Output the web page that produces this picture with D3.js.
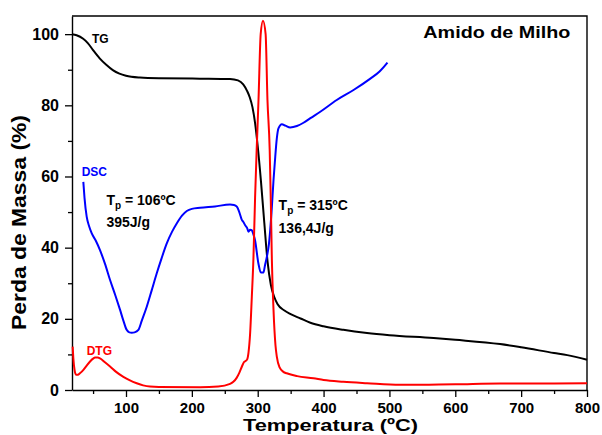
<!DOCTYPE html>
<html>
<head>
<meta charset="utf-8">
<script src="https://cdn.jsdelivr.net/npm/d3@7"></script>
<style>
  html, body { margin: 0; padding: 0; background: #fff; }
  svg { display: block; }
  text { font-family: "Liberation Sans", Arial, Helvetica, sans-serif; font-weight: bold; }
</style>
</head>
<body>
<svg id="chart" width="602" height="435"></svg>
<script>
// Thermal analysis of corn starch: TG, DSC and DTG curves vs temperature

// TG curve (mass %, vs temperature in ºC)
const tgTemp = [18, 25, 35, 42, 50, 60, 70, 80, 90, 100, 121, 150, 212, 258, 270, 278, 284, 288, 292, 296, 300, 305, 310, 315, 320, 325, 330, 340, 350, 365, 380, 400, 430, 466, 500, 567, 600, 668, 700, 750, 770, 800];
const tgVal  = [100, 99.7, 98.7, 97.5, 95.5, 93.2, 91.4, 89.9, 88.9, 88.3, 87.8, 87.6, 87.5, 87.4, 87.0, 85.9, 84.0, 82.2, 79.5, 75.0, 68.5, 58.5, 47.0, 36.0, 29.5, 26.2, 24.2, 22.4, 21.3, 20.1, 18.9, 17.9, 16.9, 16.0, 15.4, 14.6, 14.1, 12.9, 12.0, 10.4, 9.8, 8.5];

// DSC curve (arbitrary units on the same scale)
const dscTemp = [35.2, 37, 40.3, 44, 48, 54, 60.5, 68, 75.8, 84, 91, 96, 101, 105, 108.7, 113, 118.8, 124, 131.5, 139, 146.7, 154, 161.9, 170, 177, 185, 192.3, 200, 212.5, 235, 258, 264, 268.3, 272, 275.9, 278, 281, 284, 286, 288.5, 291, 293, 296, 301, 304.8, 308.7, 311, 314, 317, 319, 321, 324, 326, 329, 331.5, 336.7, 342, 349.3, 359.5, 369.5, 380, 395, 420, 445.5, 471, 485, 497];
const dscVal  = [58.5, 54, 48.7, 46, 44, 42, 39.3, 35.5, 30.9, 26.5, 22.5, 19.5, 16.9, 16.2, 16.1, 16.2, 16.9, 19.5, 23.4, 28, 32.8, 37, 41.2, 44.5, 46.8, 49, 50.3, 50.9, 51.2, 51.6, 52.1, 52, 51.5, 50, 47.8, 47.3, 46.3, 45.5, 44.5, 45, 44.9, 44, 42, 35.6, 33, 33, 35, 37.5, 41, 45, 50, 59, 64, 70.7, 73.5, 74.7, 74.3, 73.8, 74.2, 75.1, 76.4, 78.2, 81.5, 84.3, 87.5, 89.5, 92];

// DTG curve
const dtgTemp = [19, 20, 22, 24, 27, 30, 35, 40, 45.4, 50, 53, 57, 60.5, 68, 75.8, 85, 96, 106, 116.3, 126, 136.5, 150, 212.5, 240, 258, 263, 268, 272, 276, 279, 282, 284, 286, 288.5, 291, 293.5, 296, 298.4, 301.2, 304.5, 308, 312, 314.8, 318.2, 320, 321.5, 324, 327, 329, 333, 339, 344, 360, 384.7, 400, 430, 466, 516, 560, 600, 668, 700, 750, 800];
const dtgVal  = [12.2, 9, 5.5, 4.3, 4.3, 4.7, 5.6, 6.8, 8, 8.8, 9.1, 9.1, 8.9, 7.8, 6.6, 5.1, 3.7, 2.7, 1.9, 1.3, 0.95, 0.85, 0.8, 0.95, 1.7, 2.3, 3.4, 4.8, 6.6, 7.8, 8.2, 8.6, 10.5, 16, 26, 37, 54, 67.4, 81.5, 100, 103.8, 100, 81.5, 67.4, 52, 36.5, 22.5, 12.5, 9.4, 6.4, 5.1, 4.7, 3.9, 3.3, 2.8, 2.3, 1.9, 1.45, 1.5, 1.6, 1.85, 1.8, 1.85, 1.9];

// Axis ticks
const xTicks = [100, 200, 300, 400, 500, 600, 700, 800];
const xMinorTicks = [50, 150, 250, 350, 450, 550, 650, 750];
const yTicks = [0, 20, 40, 60, 80, 100];
const yMinorTicks = [10, 30, 50, 70, 90];

const svg = d3.select("#chart");
const plotLeft = 72, plotRight = 587, plotTop = 16, plotBottom = 390;

const x = d3.scaleLinear().domain([18, 800]).range([plotLeft, plotRight]);
const y = d3.scaleLinear().domain([0, 105.1]).range([plotBottom, plotTop]);

// frame (top and right edges)
svg.append("path")
  .attr("d", `M${plotLeft},${plotTop}H${plotRight}V${plotBottom}`)
  .attr("fill", "none").attr("stroke", "#000").attr("stroke-width", 1.4);

// minor ticks
svg.append("g").attr("transform", `translate(0,${plotBottom})`)
  .call(d3.axisBottom(x).tickValues(xMinorTicks).tickSizeInner(4).tickSizeOuter(0).tickFormat(""))
  .call(g => g.select(".domain").remove())
  .call(g => g.selectAll("line").attr("stroke-width", 1.3));
svg.append("g").attr("transform", `translate(${plotLeft},0)`)
  .call(d3.axisLeft(y).tickValues(yMinorTicks).tickSizeInner(4).tickSizeOuter(0).tickFormat(""))
  .call(g => g.select(".domain").remove())
  .call(g => g.selectAll("line").attr("stroke-width", 1.3));

// major axes
const xAxis = svg.append("g").attr("transform", `translate(0,${plotBottom})`)
  .call(d3.axisBottom(x).tickValues(xTicks).tickSizeInner(7).tickSizeOuter(0).tickPadding(5).tickFormat(d3.format("d")));
const yAxis = svg.append("g").attr("transform", `translate(${plotLeft},0)`)
  .call(d3.axisLeft(y).tickValues(yTicks).tickSizeInner(7).tickSizeOuter(0).tickPadding(6).tickFormat(d3.format("d")));
[xAxis, yAxis].forEach(ax => {
  ax.select(".domain").attr("stroke-width", 1.4);
  ax.selectAll("line").attr("stroke-width", 1.3);
  ax.selectAll("text").attr("fill", "#000");
  ax.attr("font-family", null).attr("font-size", null);
});
xAxis.selectAll("text").attr("font-size", 15);
yAxis.selectAll("text").attr("font-size", 16);

// curves
function drawCurve(temps, vals, color) {
  const pts = temps.map((t, i) => [t, vals[i]]);
  const line = d3.line().x(d => x(d[0])).y(d => y(d[1])).curve(d3.curveMonotoneX);
  svg.append("path").datum(pts)
    .attr("d", line)
    .attr("fill", "none")
    .attr("stroke", color)
    .attr("stroke-width", 2)
    .attr("stroke-linejoin", "round");
}
drawCurve(tgTemp, tgVal, "#000000");
drawCurve(dscTemp, dscVal, "#0000ff");
drawCurve(dtgTemp, dtgVal, "#ff0000");

// curve labels
svg.append("text").attr("x", x(48.4)).attr("y", y(97.4)).attr("font-size", 12).attr("fill", "#000").text("TG");
svg.append("text").attr("x", x(32.7)).attr("y", y(60.1)).attr("font-size", 12).attr("fill", "#0000ff").text("DSC");
svg.append("text").attr("x", x(40.3)).attr("y", y(9.8)).attr("font-size", 12).attr("fill", "#ff0000").text("DTG");

// peak annotations
function peakLabel(tx, ty, temp, energy, ty2) {
  const t = svg.append("text").attr("x", x(tx)).attr("y", y(ty)).attr("font-size", 14).attr("fill", "#000");
  t.append("tspan").text("T");
  t.append("tspan").attr("font-size", 10).attr("dy", 4).text("p");
  t.append("tspan").attr("dy", -4).text(" = " + temp);
  svg.append("text").attr("x", x(tx)).attr("y", y(ty2)).attr("font-size", 14).attr("fill", "#000").text(energy);
}
peakLabel(70.3, 52, "106ºC", "395J/g", 45.7);
peakLabel(331.7, 50.6, "315ºC", "136,4J/g", 44.2);

// sample name
svg.append("text").attr("x", x(551.5)).attr("y", y(98.8)).attr("font-size", 17)
  .attr("textLength", 147).attr("lengthAdjust", "spacingAndGlyphs").attr("fill", "#000")
  .text("Amido de Milho");

// axis titles
svg.append("text").attr("x", 330.5).attr("y", 431.2).attr("text-anchor", "middle")
  .attr("font-size", 17).attr("textLength", 175).attr("lengthAdjust", "spacingAndGlyphs")
  .text("Temperatura (ºC)");
svg.append("text").attr("transform", "translate(26,222.5) rotate(-90)").attr("text-anchor", "middle")
  .attr("font-size", 20).attr("textLength", 215).attr("lengthAdjust", "spacingAndGlyphs")
  .text("Perda de Massa (%)");
</script>
</body>
</html>
